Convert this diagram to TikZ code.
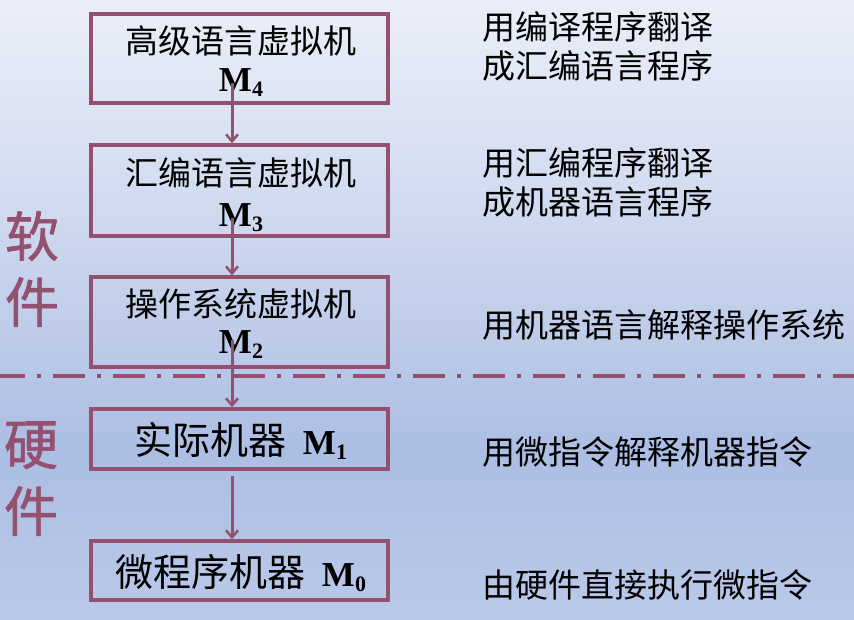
\documentclass[tikz,border=0pt]{standalone}
\usepackage{fontspec}
\setmainfont{Liberation Serif}
\newfontfamily\cjk{Noto Sans CJK SC}
\newfontfamily\cjkside[FakeBold=1.2]{Noto Sans CJK SC}
\usetikzlibrary{arrows.meta}
\definecolor{maroon}{RGB}{148,80,111}
\definecolor{bgtop}{RGB}{234,238,248}
\definecolor{bgA}{RGB}{216,224,242}
\definecolor{bgB}{RGB}{195,208,235}
\definecolor{bgC}{RGB}{172,190,228}
\definecolor{bgbot}{RGB}{186,201,232}
\pgfdeclareverticalshading{bgshade}{100bp}{color(0bp)=(bgbot); color(25bp)=(bgbot); color(38.7bp)=(bgC); color(50.8bp)=(bgB); color(62.9bp)=(bgA); color(75bp)=(bgtop); color(100bp)=(bgtop)}
\newcommand{\Msub}[1]{{\fontsize{35}{35}\selectfont\bfseries M\raisebox{-5pt}{\fontsize{22}{22}\selectfont #1}}}
\begin{document}
\begin{tikzpicture}[x=1pt,y=-1pt,
  box/.style={draw=maroon, line width=3.5pt, minimum width=297pt, inner sep=0pt},
  zh/.style={font=\cjk\fontsize{33}{33}\selectfont, inner sep=0pt, anchor=base},
  zhbig/.style={font=\fontsize{38}{38}\selectfont, inner sep=0pt, anchor=base},
  rt/.style={font=\cjk\fontsize{33}{33}\selectfont, inner sep=0pt, anchor=base west},
  mlab/.style={inner sep=0pt, anchor=base},
  side/.style={font=\cjkside\fontsize{54}{54}\selectfont, text=maroon, inner sep=0pt, anchor=base},
  arr/.style={draw=maroon, line width=3pt, -{Straight Barb[length=7pt,width=12pt,line width=2.5pt]}},
  dashline/.style={draw=maroon, line width=4pt, dash pattern=on 32pt off 12pt on 4pt off 12pt, dash phase=7pt}
]
\shade[shading=bgshade] (0,0) rectangle (854,620);
\useasboundingbox (0,0) rectangle (854,620);

% separator
\coordinate (dl) at (0,376);
\coordinate (dr) at (854,376);
\draw[dashline] (dl) -- (dr);

% arrow axis
\coordinate (ax) at (232,0);

% boxes
\node[box, minimum height=89pt] (b4) at (239.5,58.5) {};
\node[box, minimum height=91pt] (b3) at (239.5,190.5) {};
\node[box, minimum height=90pt] (b2) at (239.5,322) {};
\node[box, minimum height=60pt] (b1) at (239.5,439) {};
\node[box, minimum height=59pt] (b0) at (239.5,570.5) {};

% box texts
\node[zh] (t4) at (241,54) {高级语言虚拟机};
\node[mlab] (m4) at (241,92) {\Msub{4}};
\node[zh] (t3) at (241,186) {汇编语言虚拟机};
\node[mlab] (m3) at (241,227) {\Msub{3}};
\node[zh] (t2) at (241,316.5) {操作系统虚拟机};
\node[mlab] (m2) at (241,353) {\Msub{2}};
\node[zhbig] (t1) at (241,454) {{\cjk 实际机器}\hspace{16pt}\Msub{1}};
\node[zhbig] (t0) at (241,586) {{\cjk 微程序机器}\hspace{16pt}\Msub{0}};

% right texts
\node[rt] (r4a) at (482,39.5) {用编译程序翻译};
\node[rt] (r4b) at (482,78.5) {成汇编语言程序};
\node[rt] (r3a) at (482,175.5) {用汇编程序翻译};
\node[rt] (r3b) at (482,214.5) {成机器语言程序};
\node[rt] (r2) at (482,337.5) {用机器语言解释操作系统};
\node[rt] (r1) at (482,464.5) {用微指令解释机器指令};
\node[rt] (r0) at (482,597.5) {由硬件直接执行微指令};

% side labels
\node[side] (s1) at (32,256.5) {软};
\node[side] (s2) at (32,322.5) {件};
\node[side] (h1) at (31,464.5) {硬};
\node[side] (h2) at (31,531.5) {件};

% arrows
\draw[arr] (m4.center -| ax) -- (b3.north -| ax);
\draw[arr] (m3.center -| ax) -- (b2.north -| ax);
\draw[arr] ([yshift=4pt]m2.center -| ax) -- (b1.north -| ax);
\draw[arr] ([yshift=-5pt]b1.south -| ax) -- (b0.north -| ax);
\end{tikzpicture}
\end{document}
